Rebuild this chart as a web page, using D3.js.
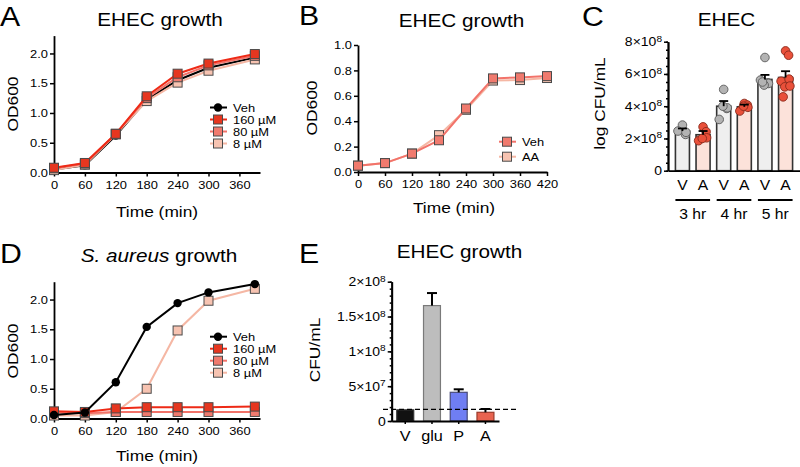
<!DOCTYPE html>
<html><head><meta charset="utf-8">
<script src="https://cdn.jsdelivr.net/npm/d3@7"></script>
<style>body{margin:0;background:#fff}svg{display:block}text{font-family:"Liberation Sans",Arial,Helvetica,sans-serif;fill:#000}</style>
</head><body><svg id="chart" width="800" height="467"></svg>
<script>
// ---------------- DATA ----------------
const timeA = [0, 60, 120, 180, 240, 300, 390];
const odA_veh = [0.05, 0.12, 0.62, 1.22, 1.55, 1.76, 1.93];
const odA_160 = [0.08, 0.16, 0.65, 1.28, 1.66, 1.83, 1.99];
const odA_80  = [0.07, 0.15, 0.65, 1.25, 1.60, 1.80, 1.96];
const odA_8   = [0.04, 0.13, 0.64, 1.20, 1.51, 1.71, 1.90];

const timeB = [0, 60, 120, 180, 240, 300, 360, 420];
const odB_veh = [0.05, 0.07, 0.145, 0.25, 0.50, 0.737, 0.745, 0.755];
const odB_aa  = [0.05, 0.07, 0.145, 0.29, 0.49, 0.72, 0.724, 0.74];

const groupsC = ["3 hr", "4 hr", "5 hr"];
const condC = ["V", "A", "V", "A", "V", "A"];
const meanC = [2.46e8, 2.23e8, 4.0e8, 3.96e8, 5.66e8, 5.78e8];
const semC  = [0.16e8, 0.23e8, 0.32e8, 0.14e8, 0.28e8, 0.39e8];
const ptsC = [
  [2.83e8, 2.25e8, 2.46e8, 2.38e8],
  [2.72e8, 2.42e8, 1.86e8, 2.04e8, 2.0e8],
  [5.04e8, 3.86e8, 3.18e8, 3.9e8, 4.0e8],
  [4.17e8, 4.07e8, 3.7e8, 3.93e8, 4.0e8],
  [7.02e8, 5.45e8, 5.62e8, 5.41e8, 5.31e8, 5.5e8],
  [7.43e8, 7.16e8, 5.55e8, 5.68e8, 5.2e8, 4.58e8, 5.25e8]
];

const timeD = [0, 60, 120, 180, 240, 300, 390];
const odD_veh = [0.06, 0.10, 0.61, 1.54, 1.94, 2.12, 2.26];
const odD_160 = [0.12, 0.11, 0.17, 0.19, 0.19, 0.19, 0.20];
const odD_80  = [0.10, 0.09, 0.11, 0.11, 0.11, 0.11, 0.11];
const odD_8   = [0.05, 0.05, 0.11, 0.50, 1.48, 1.98, 2.18];

const catsE = ["V", "glu", "P", "A"];
const meanE = [1.6e7, 1.657e8, 4.12e7, 1.25e7];
const semE  = [0, 1.8e7, 4.3e6, 4.7e6];
const limitE = 1.68e7;

const xTicksTime = [0, 60, 120, 180, 240, 300, 360];
const xTicksB = [0, 60, 120, 180, 240, 300, 360, 420];
const yTicksOD = [0, 0.5, 1.0, 1.5, 2.0];
const yTicksB = [0, 0.2, 0.4, 0.6, 0.8, 1.0];
const yTicksC = [0, 2e8, 4e8, 6e8, 8e8];
const yTicksE = [0, 5e7, 1e8, 1.5e8, 2e8];
const legendDose = ["Veh", "160 µM", "80 µM", "8 µM"];
const legendB = ["Veh", "AA"];

// ---------------- STYLE ----------------
const SX = 1.12;
const FONT = '"Liberation Sans", Arial, Helvetica, sans-serif';
const C = {
  veh: "#000000",
  l160: "#ee2a16", f160: "#e6361f",
  l80: "#f2736a", f80: "#f07a6e",
  l8: "#f5b7a4", f8: "#f7c3b1",
  mk: "#4a4a4a"
};
const svg = d3.select("#chart");
svg.append("rect").attr("width", 800).attr("height", 467).attr("fill", "#fff");

function txt(g, x, y, s, size, anchor = "middle", rot = 0) {
  return g.append("text")
    .attr("transform", `translate(${x},${y})${rot ? ` rotate(${rot})` : ""} scale(${SX},1)`)
    .attr("text-anchor", anchor).attr("font-size", size).attr("font-family", FONT).text(s);
}
function fixAxis(g, size) {
  g.attr("font-family", FONT).attr("font-size", size);
  g.select(".domain").attr("stroke", "#000").attr("stroke-width", 1.8);
  g.selectAll(".tick line").attr("stroke", "#000").attr("stroke-width", 1.5);
  g.selectAll(".tick text").attr("fill", "#000").each(function () {
    const t = d3.select(this);
    const x = +t.attr("x") || 0;
    t.attr("x", x / SX).attr("transform", `scale(${SX},1)`);
  });
}
function sciLabels(g) {
  g.selectAll(".tick text").each(function (d) {
    const t = d3.select(this);
    if (d === 0) { t.text("0"); return; }
    const e = Math.floor(Math.log10(d));
    const m = +(d / Math.pow(10, e)).toFixed(2);
    t.text(null);
    t.append("tspan").text(`${m}×10`);
    t.append("tspan").attr("dy", "-0.5em").attr("font-size", "0.72em").text(e);
  });
}
function marker(g, shape, x, y, fill, stroke) {
  if (shape === "circle") {
    g.append("circle").attr("cx", x).attr("cy", y).attr("r", 4.2).attr("fill", fill);
  } else {
    g.append("rect").attr("x", x - 4.5).attr("y", y - 4.5).attr("width", 9).attr("height", 9)
      .attr("fill", fill).attr("stroke", stroke).attr("stroke-width", 1);
  }
}

// ---------------- LINE PANELS ----------------
function linePanel(o) {
  const x = d3.scaleLinear().domain(o.xDomain).range(o.xRange);
  const y = d3.scaleLinear().domain(o.yDomain).range(o.yRange);
  const gx = svg.append("g").attr("transform", `translate(0,${o.yRange[0]})`)
    .call(d3.axisBottom(x).tickValues(o.xTicks).tickFormat(d3.format("d")).tickSize(4).tickPadding(4).tickSizeOuter(0));
  fixAxis(gx, 11.5);
  const gy = svg.append("g").attr("transform", `translate(${o.xRange[0]},0)`)
    .call(d3.axisLeft(y).tickValues(o.yTicks).tickFormat(d3.format(".1f")).tickSize(4).tickPadding(2).tickSizeOuter(0));
  fixAxis(gy, 11.5);
  const line = d3.line().x(d => x(d[0])).y(d => y(d[1]));
  o.series.forEach(s => {
    const pts = o.t.map((t, i) => [t, s.v[i]]);
    svg.append("path").datum(pts).attr("d", line).attr("fill", "none")
      .attr("stroke", s.line).attr("stroke-width", 2);
    const gm = svg.append("g");
    pts.forEach(p => marker(gm, s.shape, x(p[0]), y(p[1]), s.fill, C.mk));
  });
  // legend
  o.legend.items.forEach((s, i) => {
    const ly = o.legend.y + i * o.legend.dy;
    svg.append("line").attr("x1", o.legend.x - 8).attr("x2", o.legend.x + 9).attr("y1", ly).attr("y2", ly)
      .attr("stroke", s.line).attr("stroke-width", 2);
    marker(svg, s.shape, o.legend.x, ly, s.fill, C.mk);
    txt(svg, o.legend.x + 15, ly + 4.2, s.label, 11.5, "start");
  });
  return { x, y };
}

const seriesDose = (vVeh, v160, v80, v8) => [
  { v: vVeh, line: C.veh, fill: C.veh, shape: "circle", label: legendDose[0] },
  { v: v8, line: C.l8, fill: C.f8, shape: "square", label: legendDose[3] },
  { v: v80, line: C.l80, fill: C.f80, shape: "square", label: legendDose[2] },
  { v: v160, line: C.l160, fill: C.f160, shape: "square", label: legendDose[1] }
];

// Panel A
const sA = seriesDose(odA_veh, odA_160, odA_80, odA_8);
linePanel({
  t: timeA, xDomain: [0, 400], xRange: [54, 260], yDomain: [0, 2.3], yRange: [172.5, 35.6],
  xTicks: xTicksTime, yTicks: yTicksOD, series: sA,
  legend: { x: 218, y: 107.5, dy: 12, items: [sA[0], sA[3], sA[2], sA[1]] }
});
txt(svg, 0, 26, "A", 27, "start");
txt(svg, 160, 26, "EHEC growth", 18.5);
txt(svg, 157, 216.5, "Time (min)", 15.5);
txt(svg, 18, 104, "OD600", 15.5, "middle", -90);

// Panel B
const sB = [
  { v: odB_aa, line: C.l8, fill: C.f8, shape: "square", label: legendB[1] },
  { v: odB_veh, line: C.l80, fill: C.f80, shape: "square", label: legendB[0] }
];
linePanel({
  t: timeB, xDomain: [0, 420], xRange: [358, 547], yDomain: [0, 1], yRange: [172, 45],
  xTicks: xTicksB, yTicks: yTicksB, series: sB,
  legend: { x: 507, y: 141.7, dy: 15, items: [sB[1], sB[0]] }
});
txt(svg, 299, 25, "B", 27, "start");
txt(svg, 461.5, 26.5, "EHEC growth", 18.5);
txt(svg, 454, 212.5, "Time (min)", 15.5);
txt(svg, 316.5, 108, "OD600", 15.5, "middle", -90);

// Panel D
const sD = seriesDose(odD_veh, odD_160, odD_80, odD_8);
linePanel({
  t: timeD, xDomain: [0, 400], xRange: [54, 260], yDomain: [0, 2.3], yRange: [418.5, 281.7],
  xTicks: xTicksTime, yTicks: yTicksOD, series: [sD[1], sD[2], sD[3], sD[0]],
  legend: { x: 218, y: 336.7, dy: 12, items: [sD[0], sD[3], sD[2], sD[1]] }
});
txt(svg, 0, 263, "D", 27, "start");
{
  const t = txt(svg, 159, 261.5, "", 18.5);
  t.append("tspan").attr("font-style", "italic").text("S. aureus");
  t.append("tspan").text(" growth");
}
txt(svg, 157, 460.5, "Time (min)", 15.5);
txt(svg, 18, 351, "OD600", 15.5, "middle", -90);

// ---------------- PANEL C ----------------
{
  const x = d3.scaleBand().domain(d3.range(condC.length)).range([668, 800]).paddingInner(0.32).paddingOuter(0.36);
  const y = d3.scaleLinear().domain([0, 8e8]).range([170.7, 41.7]);
  const minor = d3.range(0, 8e8 + 1, 0.5e8);
  const gmin = svg.append("g").attr("transform", "translate(668,0)")
    .call(d3.axisLeft(y).tickValues(minor).tickFormat("").tickSize(2).tickSizeOuter(0));
  fixAxis(gmin, 12.5);
  const gy = svg.append("g").attr("transform", "translate(668,0)")
    .call(d3.axisLeft(y).tickValues(yTicksC).tickSize(4).tickPadding(2).tickSizeOuter(0));
  sciLabels(gy);
  fixAxis(gy, 12.5);
  const fills = { V: "#efefef", A: "#fce2da" };
  condC.forEach((c, i) => {
    svg.append("rect").attr("x", x(i)).attr("y", y(meanC[i])).attr("width", x.bandwidth())
      .attr("height", y(0) - y(meanC[i])).attr("fill", fills[c]).attr("stroke", "#333").attr("stroke-width", 1.6);
  });
  condC.forEach((c, i) => {
    const cx = x(i) + x.bandwidth() / 2;
    ptsC[i].forEach((v, j) => {
      svg.append("circle").attr("cx", cx + Math.sin(j * 2.4) * 4.5).attr("cy", y(v)).attr("r", 4.3)
        .attr("fill", c === "V" ? "#b3b3b3" : "#e9503a")
        .attr("stroke", c === "V" ? "#5a5a5a" : "#8a2a1c").attr("stroke-width", 0.9);
    });
  });
  condC.forEach((c, i) => {
    const cx = x(i) + x.bandwidth() / 2;
    const top = y(meanC[i] + semC[i]);
    svg.append("line").attr("x1", cx).attr("x2", cx).attr("y1", y(meanC[i])).attr("y2", top)
      .attr("stroke", "#000").attr("stroke-width", 1.8);
    svg.append("line").attr("x1", cx - 4.5).attr("x2", cx + 4.5).attr("y1", top).attr("y2", top)
      .attr("stroke", "#000").attr("stroke-width", 1.8);
  });
  const gx = svg.append("g").attr("transform", "translate(0,170.7)")
    .call(d3.axisBottom(x).tickFormat(i => condC[i]).tickSize(0).tickPadding(9).tickSizeOuter(0));
  fixAxis(gx, 14);
  groupsC.forEach((g, k) => {
    const x1 = x(2 * k), x2 = x(2 * k + 1) + x.bandwidth();
    svg.append("line").attr("x1", x1).attr("x2", x2).attr("y1", 200).attr("y2", 200)
      .attr("stroke", "#000").attr("stroke-width", 1.8);
    txt(svg, (x1 + x2) / 2, 218.5, g, 14);
  });
  txt(svg, 582, 26, "C", 27, "start");
  txt(svg, 726.5, 26, "EHEC", 18.5);
  txt(svg, 605, 103.5, "log CFU/mL", 15.5, "middle", -90);
}

// ---------------- PANEL E ----------------
{
  const x = d3.scaleBand().domain(catsE).range([391.7, 499]).paddingInner(0.366).paddingOuter(0.19);
  const y = d3.scaleLinear().domain([0, 2e8]).range([421, 281.7]);
  const minor = d3.range(0, 2e8 + 1, 1e7);
  const gmin = svg.append("g").attr("transform", "translate(391.7,0)")
    .call(d3.axisLeft(y).tickValues(minor).tickFormat("").tickSize(2).tickSizeOuter(0));
  fixAxis(gmin, 12.5);
  const gy = svg.append("g").attr("transform", "translate(391.7,0)")
    .call(d3.axisLeft(y).tickValues(yTicksE).tickSize(4).tickPadding(2).tickSizeOuter(0));
  sciLabels(gy);
  fixAxis(gy, 12.5);
  const fills = ["#111111", "#bdbdbd", "#6f7ef3", "#e8634f"];
  const strokes = ["#333", "#7a7a7a", "#474a78", "#9a3b2c"];
  catsE.forEach((c, i) => {
    svg.append("rect").attr("x", x(c)).attr("y", y(meanE[i])).attr("width", x.bandwidth())
      .attr("height", y(0) - y(meanE[i])).attr("fill", fills[i]).attr("stroke", strokes[i]).attr("stroke-width", 1.2);
    if (semE[i] > 0) {
      const cx = x(c) + x.bandwidth() / 2, top = y(meanE[i] + semE[i]);
      svg.append("line").attr("x1", cx).attr("x2", cx).attr("y1", y(meanE[i])).attr("y2", top)
        .attr("stroke", "#000").attr("stroke-width", 2);
      svg.append("line").attr("x1", cx - 5).attr("x2", cx + 5).attr("y1", top).attr("y2", top)
        .attr("stroke", "#000").attr("stroke-width", 2);
    }
  });
  const gx = svg.append("g").attr("transform", "translate(0,421)")
    .call(d3.axisBottom(x).tickSize(3).tickPadding(7).tickSizeOuter(0));
  fixAxis(gx, 14.5);
  svg.append("line").attr("x1", 383).attr("x2", 518).attr("y1", y(limitE)).attr("y2", y(limitE))
    .attr("stroke", "#000").attr("stroke-width", 1.3).attr("stroke-dasharray", "5,3");
  txt(svg, 299, 263, "E", 27, "start");
  txt(svg, 459.5, 258.3, "EHEC growth", 18.5);
  txt(svg, 320, 350, "CFU/mL", 15.5, "middle", -90);
}
</script></body></html>
